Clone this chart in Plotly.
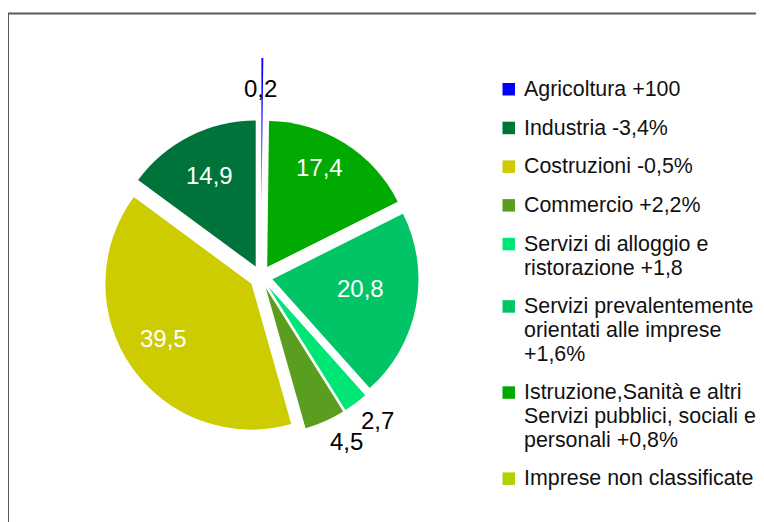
import plotly.graph_objects as go

# settori, valori (%) e colori
settori = [
    "Agricoltura +100",
    "Industria -3,4%",
    "Costruzioni -0,5%",
    "Commercio +2,2%",
    "Servizi di alloggio e<br>ristorazione +1,8",
    "Servizi prevalentemente<br>orientati alle imprese<br>+1,6%",
    "Istruzione,Sanità e altri<br>Servizi pubblici, sociali e<br>personali +0,8%",
    "Imprese non classificate",
]
valori = [0.2, 14.9, 39.5, 4.5, 2.7, 20.8, 17.4, 0.0]
colori = ["#0000ff", "#00733a", "#cccc00", "#599e1e", "#00e676", "#00c466", "#00aa00", "#b3d100"]

W, H, OFF = 764, 522, 8  # la pagina aggiunge 8px di margine al body


def px(x):
    return (x - OFF) / W


def py(y):
    return 1 - (y - OFF) / H


etichette = [("%.1f" % v).replace(".", ",") if v > 0 else "" for v in valori]
# centro delle etichette come nell'originale (pixel della pagina)
centri = [(260, 89), (210, 175), (163, 338), (346, 441), (377, 420), (360, 288), (319, 168), None]
stacco = [0.5, 0.08, 0.08, 0.08, 0.08, 0.08, 0.08, 0.08]

fig = go.Figure()
fig.add_trace(go.Pie(
    labels=settori,
    values=valori,
    textinfo="none",
    marker=dict(colors=colori, line=dict(width=0)),
    pull=stacco,
    sort=False,
    direction="counterclockwise",
    rotation=0,
    hoverinfo="label+value",
    showlegend=False,
    domain=dict(x=[px(42), px(480)], y=[py(496), py(58)]),
))

annotazioni = []
for testo, v, c in zip(etichette, valori, centri):
    if c is None:
        continue
    annotazioni.append(dict(
        text=testo, x=px(c[0]), y=py(c[1]), xref="paper", yref="paper",
        xanchor="center", yanchor="middle", showarrow=False,
        font=dict(size=24, color="white" if v >= 10 else "black"),
    ))

# legenda disegnata a mano per rispettare l'interlinea dell'originale
forme = [dict(
    type="rect", xref="paper", yref="paper",
    x0=px(8), x1=1.02, y0=-0.02, y1=py(13.5),
    line=dict(color="#5a5a5a", width=2),
)]
riga_y = 89
for nome, colore in zip(settori, colori):
    forme.append(dict(
        type="rect", xref="paper", yref="paper",
        x0=px(502.5), x1=px(515), y0=py(riga_y + 6.5), y1=py(riga_y - 6),
        fillcolor=colore, line=dict(width=0),
    ))
    for riga in nome.split("<br>"):
        annotazioni.append(dict(
            text=riga, x=px(522), y=py(riga_y), xref="paper", yref="paper",
            xanchor="left", yanchor="middle", showarrow=False,
            font=dict(size=21.4, color="#111111"),
        ))
        riga_y += 23.7
    riga_y += 15

fig.update_layout(
    width=W,
    height=H,
    margin=dict(l=0, r=0, t=0, b=0, autoexpand=False),
    paper_bgcolor="white",
    plot_bgcolor="white",
    font=dict(family="Liberation Sans", size=21, color="black"),
    shapes=forme,
    annotations=annotazioni,
)

fig.write_html("out.html")
